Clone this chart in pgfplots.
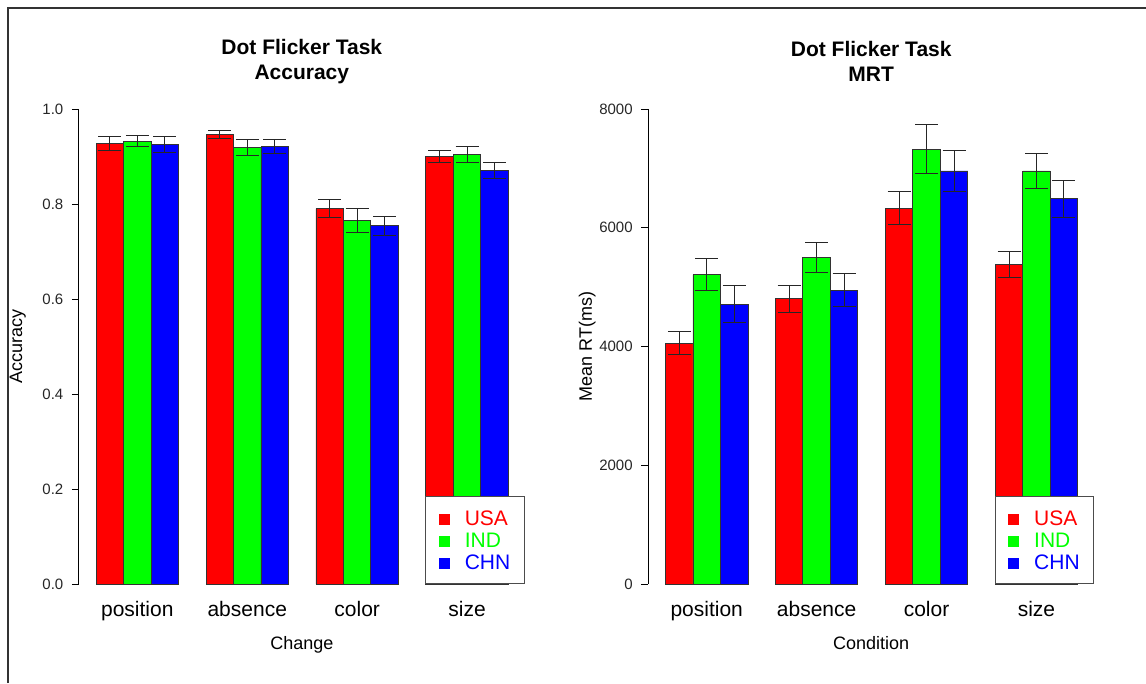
\documentclass[border=0pt]{standalone}
\usepackage{fontspec}
\setmainfont{Liberation Sans}
\usepackage{pgfplots}
\pgfplotsset{compat=1.18}
\definecolor{usa}{RGB}{255,0,0}
\definecolor{ind}{RGB}{0,255,0}
\definecolor{chn}{RGB}{0,0,255}
\pgfplotsset{
  rpanel/.style={
    scale only axis, width=446pt, height=475pt,
    xmin=0.37, xmax=16.6,
    axis lines=left,
    axis line style={-, line width=0.9pt, black},
    x axis line style={draw=none},
    xtick={2.5,6.5,10.5,14.5},
    xticklabels={position,absence,color,size},
    x tick style={draw=none},
    tick align=outside, major tick length=7pt,
    y tick style={black, line width=0.9pt},
    /pgf/number format/assume math mode=true,
    yticklabel style={font=\fontsize{15}{17}\selectfont, text=black!85, xshift=-5pt},
    xticklabel style={font=\fontsize{21}{24}\selectfont, anchor=base, yshift=-25pt},
    title style={font=\bfseries\fontsize{21}{25}\selectfont, align=center,
      at={(axis description cs:0.5,1.087)}, anchor=center},
    xlabel style={font=\fontsize{18}{20}\selectfont,
      at={(axis description cs:0.5,-0.1375)}, anchor=base},
    ylabel style={font=\fontsize{18}{20}\selectfont,
      at={(axis description cs:-0.137,0.5)}, anchor=center},
    legend style={at={(1,0)}, anchor=south east, draw=black!70, line width=1pt,
      fill=white, inner xsep=13pt, inner ysep=10.5pt, row sep=0pt, column sep=14pt,
      font=\fontsize{21}{24}\selectfont,
      nodes={inner sep=1pt, text height=17pt, text depth=3pt}},
    legend cell align=left,
    clip=false,
  },
  rbar/.style={ybar, bar width=1, bar shift=0pt, fill=#1, draw=black!80, line width=0.9pt,
    legend image code/.code={\fill[#1] (0pt,-6.5pt) rectangle (10pt,3.5pt);},
    error bars/.cd, y dir=both, y explicit, error mark=|,
    error bar style={black!85, line width=1pt},
    error mark options={black!85, line width=1pt, mark size=11.5pt}},
}
\begin{document}
\begin{tikzpicture}[x=1pt,y=1pt]
\useasboundingbox (0,0) rectangle (1146,683);
\draw[line width=2pt, black!80] (8,0) -- (8,674.7) -- (1146,674.7);

\begin{axis}[rpanel, at={(78.8pt,99pt)}, anchor=south west,
  ymin=0, ymax=1, ytick={0,0.2,0.4,0.6,0.8,1},
  yticklabel style={/pgf/number format/.cd, fixed, fixed zerofill, precision=1},
  title={Dot Flicker Task\\Accuracy}, xlabel={Change}, ylabel={Accuracy}]
\addplot[rbar=usa] coordinates {(1.5,0.928) +- (0,0.015) (5.5,0.946) +- (0,0.009) (9.5,0.790) +- (0,0.019) (13.5,0.900) +- (0,0.012)};
\addlegendentry{\textcolor{usa}{USA}}
\addplot[rbar=ind] coordinates {(2.5,0.932) +- (0,0.012) (6.5,0.919) +- (0,0.016) (10.5,0.765) +- (0,0.025) (14.5,0.904) +- (0,0.016)};
\addlegendentry{\textcolor{ind}{IND}}
\addplot[rbar=chn] coordinates {(3.5,0.926) +- (0,0.017) (7.5,0.921) +- (0,0.014) (11.5,0.754) +- (0,0.020) (15.5,0.871) +- (0,0.017)};
\addlegendentry{\textcolor{chn}{CHN}}
\end{axis}

\begin{axis}[rpanel, at={(648.2pt,99pt)}, anchor=south west,
  ymin=0, ymax=8000, ytick={0,2000,4000,6000,8000},
  yticklabel style={/pgf/number format/.cd, fixed, 1000 sep={}},
  title={Dot Flicker Task\\MRT}, xlabel={Condition}, ylabel={Mean RT(ms)}]
\addplot[rbar=usa] coordinates {(1.5,4056) +- (0,195) (5.5,4802) +- (0,224) (9.5,6328) +- (0,280) (13.5,5374) +- (0,219)};
\addlegendentry{\textcolor{usa}{USA}}
\addplot[rbar=ind] coordinates {(2.5,5211) +- (0,266) (6.5,5503) +- (0,252) (10.5,7321) +- (0,415) (14.5,6956) +- (0,291)};
\addlegendentry{\textcolor{ind}{IND}}
\addplot[rbar=chn] coordinates {(3.5,4712) +- (0,308) (7.5,4948) +- (0,278) (11.5,6956) +- (0,339) (15.5,6485) +- (0,316)};
\addlegendentry{\textcolor{chn}{CHN}}
\end{axis}
\end{tikzpicture}
\end{document}
